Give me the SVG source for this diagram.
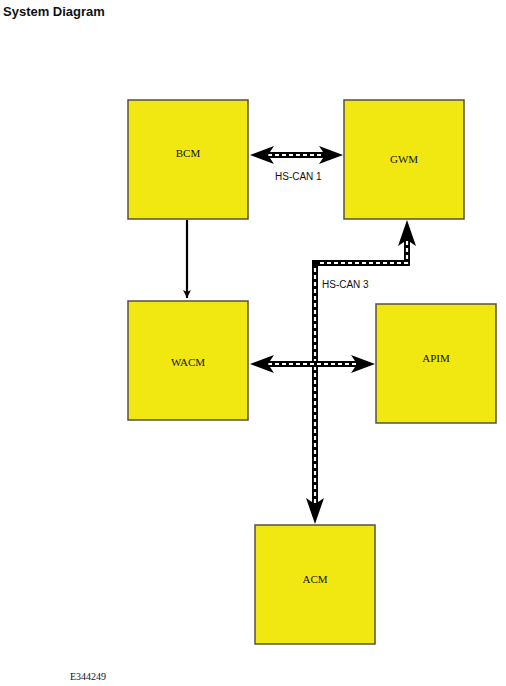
<svg xmlns="http://www.w3.org/2000/svg" width="506" height="686" viewBox="0 0 506 686">
<style>
.box{fill:#f2e811;stroke:#5a5040;stroke-width:1.5}
.lbl{font-family:"Liberation Serif",serif;font-size:11px;fill:#111;text-anchor:middle}
.bus{fill:none;stroke:#000;stroke-width:6}
.dash{fill:none;stroke:#fff;stroke-width:2.2;stroke-dasharray:4 3}
.busl{font-family:"Liberation Sans",Arial,sans-serif;font-size:10px;fill:#111}
.head{fill:#000}
</style>
<defs>
<marker id="thin" markerWidth="10" markerHeight="10" refX="8" refY="5" orient="auto" markerUnits="userSpaceOnUse">
<path d="M0,1 L8,5 L0,9 L2,5 Z" fill="#000"/>
</marker>
</defs>
<rect width="506" height="686" fill="#fff"/>
<text x="3" y="16" font-family="'Liberation Sans',Arial,sans-serif" font-size="13" font-weight="bold" fill="#111">System Diagram</text>

<g id="connectors">
<line x1="187" y1="220" x2="187" y2="298" stroke="#000" stroke-width="2.2" marker-end="url(#thin)"/>
<!-- HS-CAN 1 -->
<line class="bus" x1="266" y1="155" x2="326" y2="155"/>
<line class="dash" x1="268" y1="155" x2="324" y2="155"/>
<path class="head" d="M250,155 L274,146 L268,155 L274,164 Z"/>
<path class="head" d="M343,155 L319,146 L325,155 L319,164 Z"/>
<!-- HS-CAN 3 -->
<path class="bus" d="M315,505 V263 H407 V238"/>
<path class="dash" d="M315,503 V263 H407 V240"/>
<circle cx="315" cy="263" r="3" fill="#000"/>
<path class="head" d="M407,220 L398,246 L407,240 L416,246 Z"/>
<path class="head" d="M315,524 L306,498 L315,504 L324,498 Z"/>
<!-- WACM-APIM -->
<line class="bus" x1="266" y1="364" x2="358" y2="364"/>
<line class="dash" x1="268" y1="364" x2="356" y2="364"/>
<path class="head" d="M250,364 L274,355 L268,364 L274,373 Z"/>
<path class="head" d="M375,364 L351,355 L357,364 L351,373 Z"/>
<text class="busl" x="275" y="180">HS-CAN 1</text>
<text class="busl" x="322" y="288">HS-CAN 3</text>
</g>

<g id="BCM"><rect class="box" x="128" y="100" width="120" height="119"/><text class="lbl" x="188" y="157">BCM</text></g>
<g id="GWM"><rect class="box" x="344" y="100" width="120" height="119"/><text class="lbl" x="404" y="163">GWM</text></g>
<g id="WACM"><rect class="box" x="128" y="301" width="120" height="119"/><text class="lbl" x="188" y="366">WACM</text></g>
<g id="APIM"><rect class="box" x="376" y="304" width="120" height="119"/><text class="lbl" x="436" y="362">APIM</text></g>
<g id="ACM"><rect class="box" x="255" y="525" width="120" height="119"/><text class="lbl" x="315" y="583">ACM</text></g>

<text x="70" y="680" font-family="'Liberation Serif',serif" font-size="10" fill="#111">E344249</text>
</svg>
